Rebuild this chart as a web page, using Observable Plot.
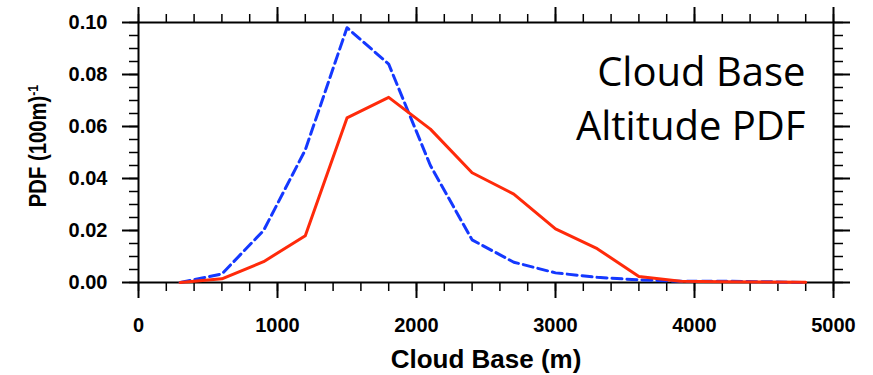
<!DOCTYPE html>
<html><head><meta charset="utf-8">
<script src="https://cdn.jsdelivr.net/npm/d3@7"></script>
<script src="https://cdn.jsdelivr.net/npm/@observablehq/plot@0.6"></script>
<style>body{margin:0;background:#fff}</style>
</head><body><div id="chart"></div>
<script>
// Cloud base altitude bins (m)
const altitudes = [300, 600, 900, 1200, 1500, 1800, 2100, 2400, 2700, 3000, 3300, 3600, 3900, 4200, 4500, 4800];
// Red solid series
const redPDF = [0.0, 0.0014, 0.008, 0.018, 0.0633, 0.0712, 0.059, 0.0422, 0.034, 0.0206, 0.013, 0.0023, 0.0005, 0.0003, 0.0002, 0.0001];
// Blue dashed series
const bluePDF = [0.0, 0.0033, 0.020, 0.051, 0.098, 0.084, 0.045, 0.0164, 0.0078, 0.0037, 0.002, 0.001, 0.0005, 0.0005, 0.0003, 0.0];
const xMajor = [0, 1000, 2000, 3000, 4000, 5000];
const xMinor = d3.range(0, 5001, 200);
const yMajor = [0, 0.02, 0.04, 0.06, 0.08, 0.10];
const yMinor = d3.range(0, 0.1001, 0.005);
const xTitle = "Cloud Base (m)";
const yTitle = "PDF (100m)";
const yTitleSup = "-1";
const noteLines = ["Cloud Base", "Altitude PDF"];

const red = redPDF.map((v, i) => ({x: altitudes[i], y: v}));
const blue = bluePDF.map((v, i) => ({x: altitudes[i], y: v}));
const blank = () => "";
const MAJ = 16, MIN = 9;

const svg = Plot.plot({
  width: 873, height: 375,
  marginLeft: 138, marginRight: 40, marginTop: 22, marginBottom: 93,
  style: {fontFamily: "Liberation Sans, Arial, sans-serif", fontWeight: "bold", fontSize: "20px", background: "#fff", color: "#000"},
  x: {domain: [0, 5000]},
  y: {domain: [0, 0.1]},
  marks: [
    // minor ticks all around
    Plot.axisX(xMinor, {anchor: "bottom", tickSize: MIN, tickFormat: blank, label: null, strokeWidth: 1.5}),
    Plot.axisX(xMinor, {anchor: "top", tickSize: MIN, tickFormat: blank, label: null, strokeWidth: 1.5}),
    Plot.axisY(yMinor, {anchor: "left", tickSize: MIN, tickFormat: blank, label: null, strokeWidth: 1.5}),
    Plot.axisY(yMinor, {anchor: "right", tickSize: MIN, tickFormat: blank, label: null, strokeWidth: 1.5}),
    // major ticks
    Plot.axisX(xMajor, {anchor: "bottom", tickSize: MAJ, tickPadding: 19, tickFormat: d3.format("d"), label: null, strokeWidth: 2, fontSize: 20, letterSpacing: 0.4}),
    Plot.axisX(xMajor, {anchor: "top", tickSize: MAJ, tickFormat: blank, label: null, strokeWidth: 2}),
    Plot.axisY(yMajor, {anchor: "left", tickSize: MAJ, tickPadding: 15, tickFormat: d3.format(".2f"), label: null, strokeWidth: 2, fontSize: 20, letterSpacing: 0.4}),
    Plot.axisY(yMajor, {anchor: "right", tickSize: MAJ, tickFormat: blank, label: null, strokeWidth: 2}),
    Plot.frame({stroke: "#000", strokeWidth: 2}),
    Plot.line(blue, {x: "x", y: "y", stroke: "#1438ff", strokeWidth: 3, strokeDasharray: "10,5"}),
    Plot.line(red, {x: "x", y: "y", stroke: "#ff2a0a", strokeWidth: 3}),
    Plot.text([noteLines[0]], {frameAnchor: "top-right", dx: -28, dy: 63, lineAnchor: "bottom", fontFamily: "Open Sans, sans-serif", fontWeight: "normal", fontSize: 40, fill: "#000"}),
    Plot.text([noteLines[1]], {frameAnchor: "top-right", dx: -28, dy: 117, lineAnchor: "bottom", fontFamily: "Open Sans, sans-serif", fontWeight: "normal", fontSize: 40, fill: "#000"}),
    Plot.text([xTitle], {frameAnchor: "bottom", dy: 85, lineAnchor: "bottom", fontSize: 26, fill: "#000"})
  ]
});

const yl = d3.select(svg).append("text")
  .attr("transform", "translate(46,146) rotate(-90) scale(0.88,1)")
  .attr("text-anchor", "middle")
  .attr("font-family", "Liberation Sans, Arial, sans-serif")
  .attr("font-weight", "bold")
  .attr("font-size", 23)
  .attr("fill", "#000");
yl.append("tspan").text(yTitle);
yl.append("tspan").attr("dy", "-0.55em").attr("font-size", 14).text(yTitleSup);

document.getElementById("chart").appendChild(svg);
</script>
</body></html>
